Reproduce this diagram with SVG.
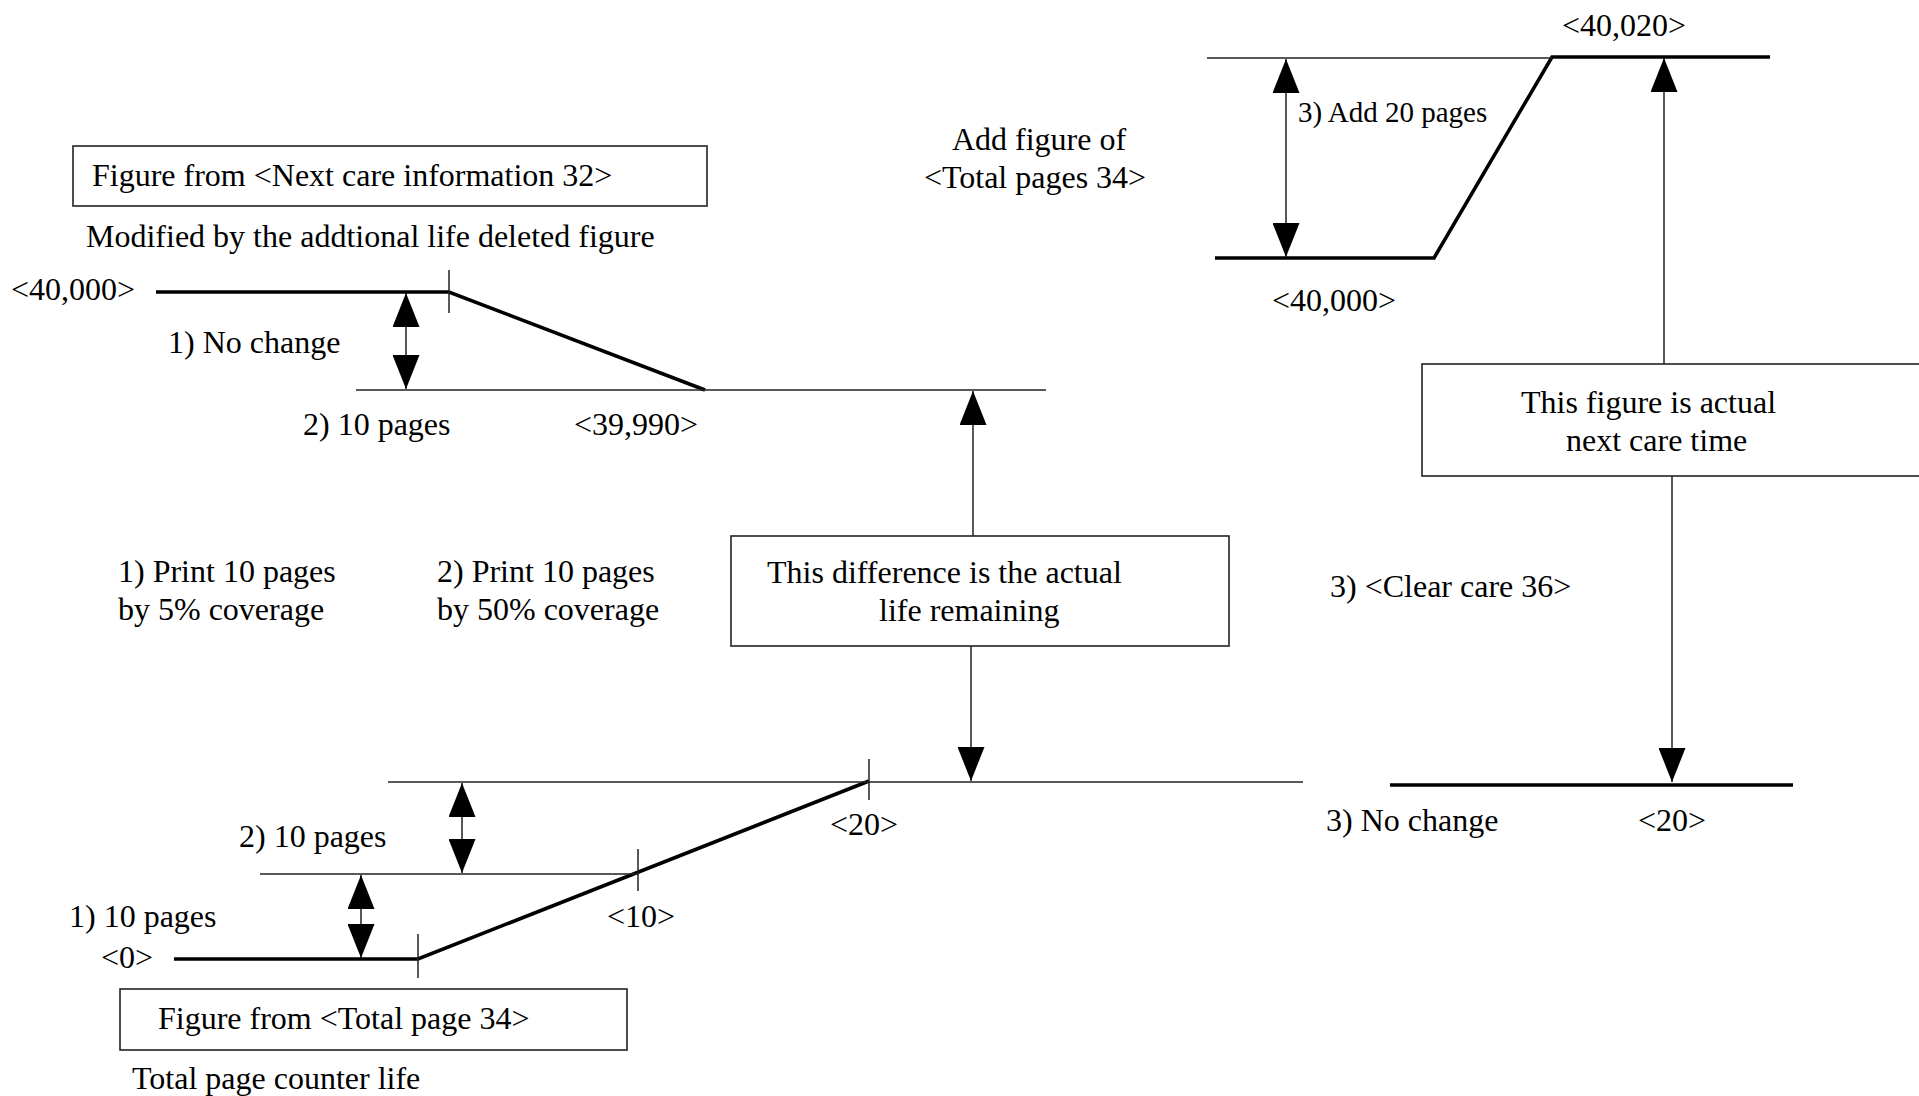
<svg xmlns="http://www.w3.org/2000/svg" width="1919" height="1096" viewBox="0 0 1919 1096">
<defs>
<style>
text{font-family:"Liberation Serif","Times New Roman",serif;font-size:32px;fill:#000}
.box{fill:#fff;stroke:#222;stroke-width:1.6}
.thick{fill:none;stroke:#000;stroke-width:3.6;stroke-linejoin:miter}
.thin{fill:none;stroke:#222;stroke-width:1.5}
.arr{fill:none;stroke:#222;stroke-width:1.5;marker-end:url(#ah)}
.darr{fill:none;stroke:#222;stroke-width:1.5;marker-start:url(#ah);marker-end:url(#ah)}
.mid{text-anchor:middle}
</style>
<marker id="ah" markerUnits="userSpaceOnUse" markerWidth="34" markerHeight="27" refX="34" refY="13.5" orient="auto-start-reverse">
<path d="M0,0 L34,13.5 L0,27 Z" fill="#000"/>
</marker>
</defs>
<rect width="1919" height="1096" fill="#fff"/>

<g id="curve-next-care">
<polyline class="thick" points="156,292 449,292 705,390"/>
<line class="thin" x1="449" y1="270" x2="449" y2="313"/>
<line class="thin" x1="356" y1="390" x2="1046" y2="390"/>
<text x="11" y="300">&lt;40,000&gt;</text>
<text x="168" y="353">1) No change</text>
<text x="303" y="435">2) 10 pages</text>
<text x="574" y="435">&lt;39,990&gt;</text>
</g>

<g id="node-next-care-info">
<rect class="box" x="73" y="146" width="634" height="60"/>
<text x="92" y="186">Figure from &lt;Next care information 32&gt;</text>
</g>
<g id="label-modified">
<text x="86" y="247">Modified by the addtional life deleted figure</text>
</g>

<g id="curve-total-pages">
<polyline class="thick" points="174,959 418,959 869,781"/>
<line class="thin" x1="388" y1="782" x2="1303" y2="782"/>
<line class="thin" x1="260" y1="874" x2="638" y2="874"/>
<line class="thin" x1="418" y1="934" x2="418" y2="978"/>
<line class="thin" x1="638" y1="849" x2="638" y2="891"/>
<line class="thin" x1="869" y1="759" x2="869" y2="800"/>
<text x="830" y="835">&lt;20&gt;</text>
<text x="239" y="847">2) 10 pages</text>
<text x="69" y="927">1) 10 pages</text>
<text x="607" y="927">&lt;10&gt;</text>
<text x="101" y="968">&lt;0&gt;</text>
</g>

<g id="node-total-page">
<rect class="box" x="120" y="989" width="507" height="61"/>
<text x="158" y="1029">Figure from &lt;Total page 34&gt;</text>
</g>
<g id="label-counter-life">
<text x="132" y="1089">Total page counter life</text>
</g>

<g id="label-print">
<text x="118" y="582">1) Print 10 pages</text>
<text x="118" y="620">by 5% coverage</text>
<text x="437" y="582">2) Print 10 pages</text>
<text x="437" y="620">by 50% coverage</text>
</g>

<g id="node-difference">
<rect class="box" x="731" y="536" width="498" height="110"/>
<text x="767" y="583">This difference is the actual</text>
<text x="879" y="621">life remaining</text>
</g>

<g id="label-add-figure">
<text class="mid" x="1039" y="150">Add figure of</text>
<text class="mid" x="1035" y="188">&lt;Total pages 34&gt;</text>
</g>

<g id="curve-add">
<polyline class="thick" points="1215,258 1434,258 1552,57 1770,57"/>
<line class="thin" x1="1207" y1="58" x2="1552" y2="58"/>
<text class="mid" x="1624" y="36">&lt;40,020&gt;</text>
<text x="1298" y="122" style="font-size:29px">3) Add 20 pages</text>
<text x="1272" y="311">&lt;40,000&gt;</text>
</g>

<g id="node-next-care-time">
<rect class="box" x="1422" y="364" width="520" height="112"/>
<text x="1521" y="413">This figure is actual</text>
<text x="1566" y="451">next care time</text>
</g>

<g id="curve-clear">
<line class="thick" x1="1390" y1="785" x2="1793" y2="785"/>
<text x="1330" y="597">3) &lt;Clear care 36&gt;</text>
<text x="1326" y="831">3) No change</text>
<text x="1638" y="831">&lt;20&gt;</text>
</g>

<g id="connectors">
<line class="darr" x1="406" y1="293" x2="406" y2="389"/>
<line class="darr" x1="1286" y1="59" x2="1286" y2="257"/>
<line class="darr" x1="462" y1="783" x2="462" y2="873"/>
<line class="darr" x1="361" y1="875" x2="361" y2="958"/>
<line class="arr" x1="973" y1="536" x2="973" y2="391"/>
<line class="arr" x1="971" y1="646" x2="971" y2="781"/>
<line class="arr" x1="1664" y1="364" x2="1664" y2="58"/>
<line class="arr" x1="1672" y1="476" x2="1672" y2="782"/>
</g>
</svg>
